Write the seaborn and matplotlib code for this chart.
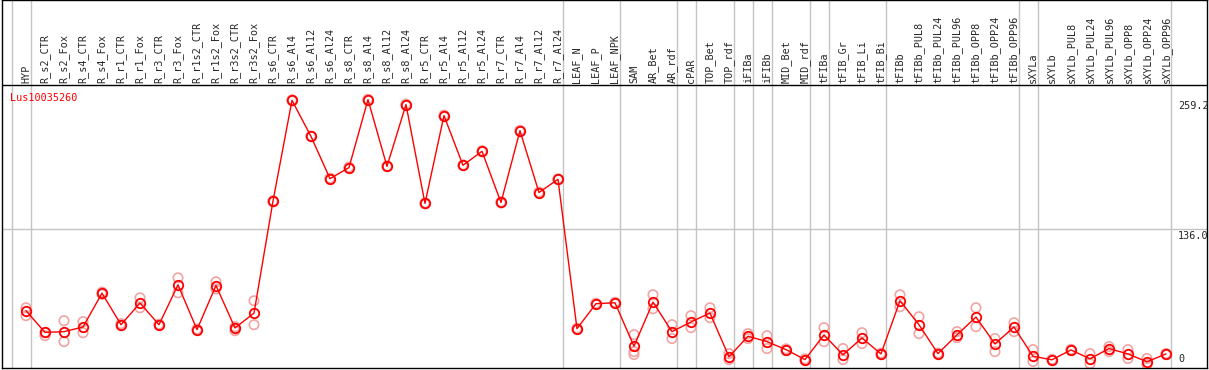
import pandas as pd
import seaborn as sns
import matplotlib.pyplot as plt

gene = "Lus10035260"

samples = ["HYP", "R_s2_CTR", "R_s2_Fox", "R_s4_CTR", "R_s4_Fox", "R_r1_CTR", "R_r1_Fox",
           "R_r3_CTR", "R_r3_Fox", "R_r1s2_CTR", "R_r1s2_Fox", "R_r3s2_CTR", "R_r3s2_Fox",
           "R_s6_CTR", "R_s6_Al4", "R_s6_Al12", "R_s6_Al24", "R_s8_CTR", "R_s8_Al4", "R_s8_Al12",
           "R_s8_Al24", "R_r5_CTR", "R_r5_Al4", "R_r5_Al12", "R_r5_Al24", "R_r7_CTR", "R_r7_Al4",
           "R_r7_Al12", "R_r7_Al24", "LEAF_N", "LEAF_P", "LEAF_NPK", "SAM", "AR_Bet", "AR_rdf",
           "cPAR", "TOP_Bet", "TOP_rdf", "iFIBa", "iFIBb", "MID_Bet", "MID_rdf", "tFIBa",
           "tFIB_Gr", "tFIB_Li", "tFIB_Bi", "tFIBb", "tFIBb_PUL8", "tFIBb_PUL24", "tFIBb_PUL96",
           "tFIBb_OPP8", "tFIBb_OPP24", "tFIBb_OPP96", "sXYLa", "sXYLb", "sXYLb_PUL8",
           "sXYLb_PUL24", "sXYLb_PUL96", "sXYLb_OPP8", "sXYLb_OPP24", "sXYLb_OPP96"]

means = [58.3, 37.7, 38.4, 42.8, 75.0, 45.0, 65.6, 45.0, 83.0, 40.3, 82.3, 41.9, 56.0,
         162.6, 258.5, 224.2, 184.0, 194.5, 259.2, 195.7, 254.5, 160.4, 244.0, 196.7, 210.0,
         161.3, 229.6, 170.8, 183.4, 41.2, 65.0, 65.9, 24.5, 66.5, 38.4, 47.6, 56.1, 14.4,
         34.0, 28.9, 21.3, 11.8, 35.3, 16.3, 32.4, 17.2, 67.8, 45.0, 17.5, 35.3, 52.3, 26.7,
         42.8, 15.0, 11.6, 21.0, 12.5, 22.3, 17.2, 9.7, 17.2]

# replicate values per sample
reps = [[61.1, 53.6], [37.4, 34.6], [48.8, 28.9], [47.9, 37.4], [76.0, 74.0], [46.0, 44.0],
        [70.6, 61.1], [45.5, 44.5], [89.6, 75.4], [40.8, 39.8], [85.8, 79.1], [43.1, 39.3],
        [67.8, 45.0], [163.0, 162.0], [259.0, 258.0], [224.5, 224.0], [184.5, 183.5],
        [195.0, 194.0], [259.5, 259.0], [196.0, 195.4], [255.0, 254.0], [160.8, 160.0],
        [244.5, 243.5], [197.0, 196.4], [210.5, 209.5], [161.8, 160.8], [230.0, 229.2],
        [171.2, 170.4], [183.8, 183.0], [41.6, 40.8], [65.4, 64.6], [66.3, 65.5],
        [35.5, 19.4, 16.6], [73.5, 60.2], [45.0, 31.8], [53.6, 42.2], [61.1, 51.7],
        [17.5, 11.8], [36.5, 31.8], [34.6, 22.3], [22.0, 20.5], [12.5, 11.0], [42.2, 28.9],
        [22.3, 11.8], [37.4, 27.0], [18.0, 16.5], [73.5, 62.1], [52.6, 36.5], [18.0, 17.0],
        [38.4, 32.7], [61.1, 43.1], [31.8, 19.4], [46.9, 38.4], [21.3, 10.0], [12.0, 11.2],
        [21.5, 20.5], [17.5, 8.0], [24.2, 19.4], [21.3, 12.8], [12.8, 7.1], [17.6, 16.8]]

# index of last sample in each group (-1 = before the first)
group_ends = [-1, 0, 28, 31, 34, 35, 37, 38, 39, 41, 42, 45, 52, 53, 60]

pos = list(range(len(samples)))
line_df = pd.DataFrame({"pos": pos, "value": means})
rep_df = pd.DataFrame([(p, v) for p, vals in zip(pos, reps) for v in vals],
                      columns=["pos", "value"])

sns.set_style("white")
plt.rcParams["font.family"] = ["DejaVu Sans Mono"]
fs = 7.3

fig = plt.figure(figsize=(12.09, 3.70), dpi=100)
ax = fig.add_axes([2 / 1209, 2 / 370, 1205 / 1209, 368 / 370])

for g in group_ends:
    ax.axvline(g + 0.26, color="#c4c4c4", lw=1, zorder=0)
ax.axhline(136.0, color="#c4c4c4", lw=1, zorder=0)
ax.axhline(273.0, color="black", lw=1, zorder=1)

sns.scatterplot(data=rep_df, x="pos", y="value", ax=ax, marker="o", s=46,
                facecolor="none", edgecolor="#f0a4a4", linewidth=1.2, zorder=2, legend=False)
sns.lineplot(data=line_df, x="pos", y="value", ax=ax, color="red", lw=1, sort=False,
             marker="o", markersize=6.8, markerfacecolor="none", markeredgecolor="red",
             markeredgewidth=1.3, zorder=3)

ax.set_xlim(-1.263, 62.16)
ax.set_ylim(3.8, 354)
ax.set_xticks(pos)
ax.set_xticklabels(samples, rotation=90, fontsize=fs)
ax.tick_params(axis="x", top=True, labeltop=True, bottom=False, labelbottom=False,
               length=0, pad=-60)
ax.set_yticks([])
ax.set_xlabel("")
ax.set_ylabel("")
for s in ax.spines.values():
    s.set_color("black")
    s.set_linewidth(1.0)

ax.text(8 / 1205, 0.734, gene, color="red", fontsize=fs, va="center", ha="left",
        transform=ax.transAxes)
ytr = ax.get_yaxis_transform()
for v in [259.2, 136.0]:
    ax.text(1176 / 1205, v - 1.5, f"{v:.1f}", fontsize=fs, ha="left", va="top",
            transform=ytr)
ax.text(1176 / 1205, 0.01, "0", fontsize=fs, ha="left", va="bottom", transform=ax.transAxes)

fig.savefig("out.png", dpi=100)
